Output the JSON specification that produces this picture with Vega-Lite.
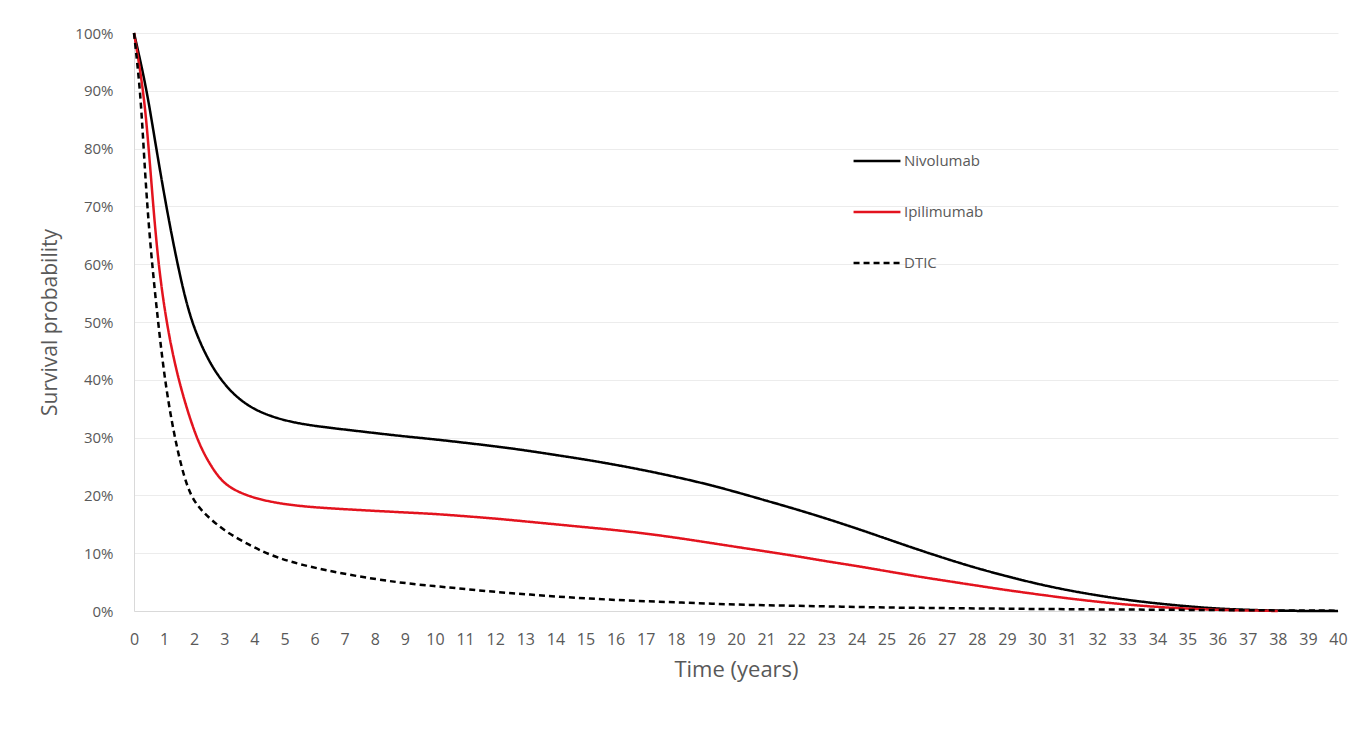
{
  "$schema": "https://vega.github.io/schema/vega-lite/v6.json",
  "width": 1204,
  "height": 578,
  "autosize": "none",
  "padding": {"left": 134, "top": 33, "right": 16, "bottom": 140},
  "background": "white",
  "config": {
    "view": {"stroke": null},
    "font": "Open Sans",
    "axis": {"labelColor": "#595959", "titleColor": "#595959", "titleFontWeight": "normal", "gridColor": "#ececec", "domainColor": "#d9d9d9", "ticks": false}
  },
  "data": {"values": [
    {"t":0,"s":1.0,"g":"Nivolumab"},{"t":0.22,"s":0.95,"g":"Nivolumab"},{"t":0.46,"s":0.89,"g":"Nivolumab"},{"t":0.74,"s":0.80,"g":"Nivolumab"},{"t":1.07,"s":0.70,"g":"Nivolumab"},{"t":1.44,"s":0.60,"g":"Nivolumab"},{"t":1.86,"s":0.505,"g":"Nivolumab"},{"t":2.4,"s":0.44,"g":"Nivolumab"},{"t":2.84,"s":0.403,"g":"Nivolumab"},{"t":3.3,"s":0.375,"g":"Nivolumab"},{"t":3.84,"s":0.353,"g":"Nivolumab"},{"t":4.5,"s":0.337,"g":"Nivolumab"},{"t":5.5,"s":0.323,"g":"Nivolumab"},{"t":7.16,"s":0.313,"g":"Nivolumab"},{"t":8.8,"s":0.303,"g":"Nivolumab"},{"t":10,"s":0.297,"g":"Nivolumab"},{"t":11,"s":0.291,"g":"Nivolumab"},{"t":12,"s":0.285,"g":"Nivolumab"},{"t":13,"s":0.278,"g":"Nivolumab"},{"t":14,"s":0.27,"g":"Nivolumab"},{"t":15,"s":0.262,"g":"Nivolumab"},{"t":16,"s":0.253,"g":"Nivolumab"},{"t":17,"s":0.243,"g":"Nivolumab"},{"t":18,"s":0.232,"g":"Nivolumab"},{"t":19,"s":0.22,"g":"Nivolumab"},{"t":20,"s":0.206,"g":"Nivolumab"},{"t":21,"s":0.191,"g":"Nivolumab"},{"t":22,"s":0.176,"g":"Nivolumab"},{"t":23,"s":0.16,"g":"Nivolumab"},{"t":24,"s":0.143,"g":"Nivolumab"},{"t":25,"s":0.125,"g":"Nivolumab"},{"t":26,"s":0.107,"g":"Nivolumab"},{"t":27,"s":0.09,"g":"Nivolumab"},{"t":28,"s":0.074,"g":"Nivolumab"},{"t":29,"s":0.06,"g":"Nivolumab"},{"t":30,"s":0.047,"g":"Nivolumab"},{"t":31,"s":0.036,"g":"Nivolumab"},{"t":32,"s":0.027,"g":"Nivolumab"},{"t":33,"s":0.019,"g":"Nivolumab"},{"t":34,"s":0.013,"g":"Nivolumab"},{"t":35,"s":0.008,"g":"Nivolumab"},{"t":36,"s":0.004,"g":"Nivolumab"},{"t":37,"s":0.002,"g":"Nivolumab"},{"t":38,"s":0.0005,"g":"Nivolumab"},{"t":39,"s":0,"g":"Nivolumab"},{"t":40,"s":0,"g":"Nivolumab"},
    {"t":0,"s":1.0,"g":"Ipilimumab"},{"t":0.32,"s":0.90,"g":"Ipilimumab"},{"t":0.49,"s":0.80,"g":"Ipilimumab"},{"t":0.64,"s":0.70,"g":"Ipilimumab"},{"t":0.81,"s":0.60,"g":"Ipilimumab"},{"t":1.07,"s":0.50,"g":"Ipilimumab"},{"t":1.46,"s":0.40,"g":"Ipilimumab"},{"t":2.05,"s":0.30,"g":"Ipilimumab"},{"t":2.5,"s":0.255,"g":"Ipilimumab"},{"t":2.9,"s":0.225,"g":"Ipilimumab"},{"t":3.3,"s":0.21,"g":"Ipilimumab"},{"t":3.84,"s":0.198,"g":"Ipilimumab"},{"t":4.5,"s":0.189,"g":"Ipilimumab"},{"t":5.5,"s":0.181,"g":"Ipilimumab"},{"t":7,"s":0.176,"g":"Ipilimumab"},{"t":8.8,"s":0.171,"g":"Ipilimumab"},{"t":10,"s":0.168,"g":"Ipilimumab"},{"t":11,"s":0.164,"g":"Ipilimumab"},{"t":12,"s":0.16,"g":"Ipilimumab"},{"t":13,"s":0.155,"g":"Ipilimumab"},{"t":14,"s":0.15,"g":"Ipilimumab"},{"t":15,"s":0.145,"g":"Ipilimumab"},{"t":16,"s":0.14,"g":"Ipilimumab"},{"t":17,"s":0.134,"g":"Ipilimumab"},{"t":18,"s":0.127,"g":"Ipilimumab"},{"t":19,"s":0.119,"g":"Ipilimumab"},{"t":20,"s":0.111,"g":"Ipilimumab"},{"t":21,"s":0.103,"g":"Ipilimumab"},{"t":22,"s":0.095,"g":"Ipilimumab"},{"t":23,"s":0.086,"g":"Ipilimumab"},{"t":24,"s":0.078,"g":"Ipilimumab"},{"t":25,"s":0.069,"g":"Ipilimumab"},{"t":26,"s":0.06,"g":"Ipilimumab"},{"t":27,"s":0.052,"g":"Ipilimumab"},{"t":28,"s":0.044,"g":"Ipilimumab"},{"t":29,"s":0.036,"g":"Ipilimumab"},{"t":30,"s":0.029,"g":"Ipilimumab"},{"t":31,"s":0.022,"g":"Ipilimumab"},{"t":32,"s":0.016,"g":"Ipilimumab"},{"t":33,"s":0.011,"g":"Ipilimumab"},{"t":34,"s":0.007,"g":"Ipilimumab"},{"t":35,"s":0.004,"g":"Ipilimumab"},{"t":36,"s":0.002,"g":"Ipilimumab"},{"t":37,"s":0.001,"g":"Ipilimumab"},{"t":38,"s":0,"g":"Ipilimumab"},
    {"t":0,"s":1.0,"g":"DTIC"},{"t":0.21,"s":0.90,"g":"DTIC"},{"t":0.32,"s":0.80,"g":"DTIC"},{"t":0.44,"s":0.70,"g":"DTIC"},{"t":0.6,"s":0.60,"g":"DTIC"},{"t":0.8,"s":0.50,"g":"DTIC"},{"t":1.02,"s":0.40,"g":"DTIC"},{"t":1.34,"s":0.30,"g":"DTIC"},{"t":1.78,"s":0.205,"g":"DTIC"},{"t":2.25,"s":0.172,"g":"DTIC"},{"t":3,"s":0.138,"g":"DTIC"},{"t":3.84,"s":0.114,"g":"DTIC"},{"t":4.5,"s":0.097,"g":"DTIC"},{"t":5.5,"s":0.08,"g":"DTIC"},{"t":7.16,"s":0.062,"g":"DTIC"},{"t":8.8,"s":0.049,"g":"DTIC"},{"t":10,"s":0.043,"g":"DTIC"},{"t":11,"s":0.038,"g":"DTIC"},{"t":12,"s":0.033,"g":"DTIC"},{"t":13,"s":0.029,"g":"DTIC"},{"t":14,"s":0.025,"g":"DTIC"},{"t":15,"s":0.022,"g":"DTIC"},{"t":16,"s":0.019,"g":"DTIC"},{"t":17,"s":0.017,"g":"DTIC"},{"t":18,"s":0.015,"g":"DTIC"},{"t":19,"s":0.013,"g":"DTIC"},{"t":20,"s":0.011,"g":"DTIC"},{"t":21,"s":0.01,"g":"DTIC"},{"t":22,"s":0.009,"g":"DTIC"},{"t":23,"s":0.008,"g":"DTIC"},{"t":24,"s":0.007,"g":"DTIC"},{"t":25,"s":0.006,"g":"DTIC"},{"t":26,"s":0.0055,"g":"DTIC"},{"t":27,"s":0.005,"g":"DTIC"},{"t":28,"s":0.0045,"g":"DTIC"},{"t":29,"s":0.004,"g":"DTIC"},{"t":30,"s":0.0035,"g":"DTIC"},{"t":32,"s":0.0028,"g":"DTIC"},{"t":34,"s":0.0022,"g":"DTIC"},{"t":36,"s":0.0016,"g":"DTIC"},{"t":38,"s":0.001,"g":"DTIC"},{"t":40,"s":0.0006,"g":"DTIC"}
  ]},
  "mark": {"type": "line", "interpolate": "basis", "strokeWidth": 2.5},
  "encoding": {
    "x": {"field": "t", "type": "quantitative", "scale": {"domain": [0, 40], "nice": false},
      "axis": {"title": "Time (years)", "values": [0,1,2,3,4,5,6,7,8,9,10,11,12,13,14,15,16,17,18,19,20,21,22,23,24,25,26,27,28,29,30,31,32,33,34,35,36,37,38,39,40], "grid": false, "labelFontSize": 16, "labelPadding": 20, "titleFontSize": 22, "titlePadding": 12, "labelFlush": false}},
    "y": {"field": "s", "type": "quantitative", "scale": {"domain": [0, 1], "nice": false},
      "axis": {"title": "Survival probability", "values": [0,0.1,0.2,0.3,0.4,0.5,0.6,0.7,0.8,0.9,1], "format": ".0%", "labelFontSize": 15, "labelPadding": 21, "titleFontSize": 21, "titlePadding": 14}},
    "color": {"field": "g", "type": "nominal", "sort": ["Nivolumab","Ipilimumab","DTIC"],
      "scale": {"domain": ["Nivolumab","Ipilimumab","DTIC"], "range": ["#000000","#e3131e","#000000"]},
      "legend": {"title": null, "orient": "none", "legendX": 718, "legendY": 103, "symbolType": "stroke", "symbolSize": 2200, "symbolStrokeWidth": 2.5, "labelFontSize": 15, "labelColor": "#595959", "rowPadding": 18, "labelOffset": 2}},
    "strokeDash": {"field": "g", "type": "nominal", "sort": ["Nivolumab","Ipilimumab","DTIC"],
      "scale": {"domain": ["Nivolumab","Ipilimumab","DTIC"], "range": [[1,0],[1,0],[6,4]]},
      "legend": {"title": null, "orient": "none", "legendX": 718, "legendY": 103, "symbolType": "stroke", "symbolSize": 2200, "symbolStrokeWidth": 2.5, "labelFontSize": 15, "labelColor": "#595959", "rowPadding": 18, "labelOffset": 2}}
  }
}
